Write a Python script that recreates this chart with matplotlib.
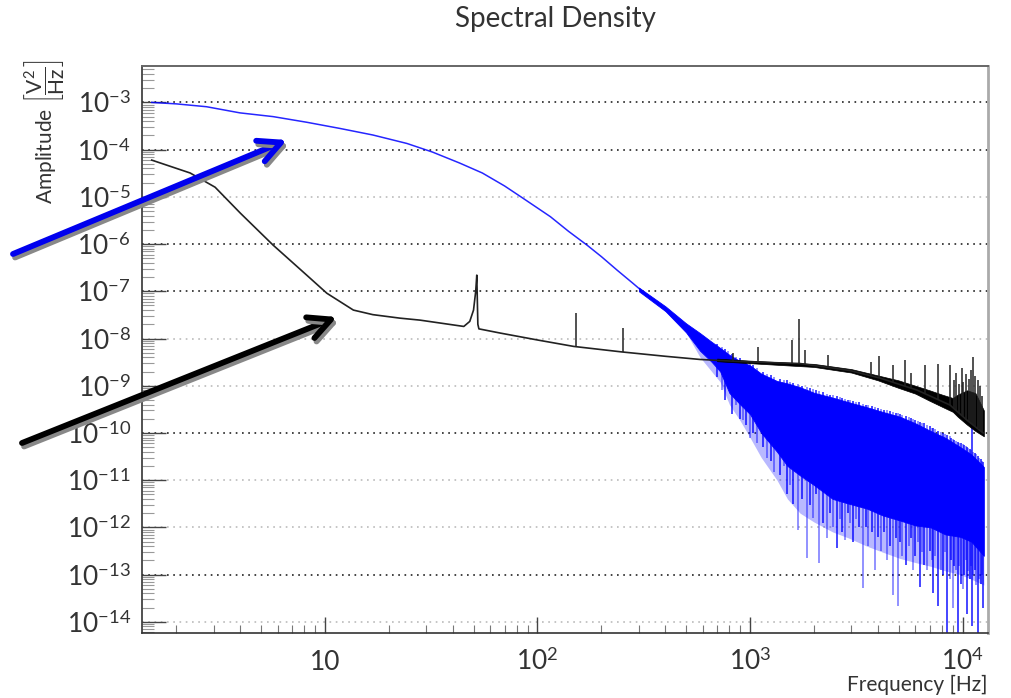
import matplotlib
matplotlib.use("Agg")
import matplotlib.pyplot as plt
from matplotlib import patheffects
from matplotlib.ticker import LogLocator, NullFormatter
import numpy as np

W, H, DPI = 1012, 698, 100

# ── Data (Hz, V^2/Hz) ────────────────────────────────────────────────────────
# blue channel: smooth low-frequency part
blue_f = [1.53, 2.0, 2.77, 3.98, 5.7, 8.2, 11.8, 16.8, 24.3, 32, 43, 55, 70, 85,
          115, 140, 171, 200, 237, 280, 327, 390, 454]
blue_v = [1.0e-3, 9.3e-4, 8.1e-4, 6.0e-4, 5.0e-4, 3.8e-4, 2.8e-4, 2.04e-4, 1.35e-4,
          8.9e-5, 5.2e-5, 3.2e-5, 1.7e-5, 9.5e-6, 3.8e-6, 1.86e-6, 9.5e-7, 5.4e-7,
          2.8e-7, 1.5e-7, 8.3e-8, 4.4e-8, 2.45e-8]

# blue channel: noisy high-frequency band (upper / lower edge of the dense core)
blue_band_f = [300, 400, 500, 582, 660, 724, 800, 900, 1000, 1130, 1340, 1500, 1720,
               2000, 2450, 2900, 3550, 4200, 5080, 6000, 7080, 8300, 9770, 11000, 12600]
blue_band_hi = [1.2e-7, 4.8e-8, 2.1e-8, 1.3e-8, 8.5e-9, 6.3e-9, 4.5e-9, 3.3e-9, 2.7e-9,
                1.8e-9, 1.26e-9, 1.12e-9, 9.3e-10, 7.1e-10, 5.6e-10, 4.5e-10, 3.5e-10,
                2.8e-10, 2.2e-10, 1.6e-10, 1.1e-10, 7.9e-11, 5.0e-11, 3.5e-11, 1.9e-11]
blue_band_lo = [1.0e-7, 3.8e-8, 1.35e-8, 5.5e-9, 3.2e-9, 2.0e-9, 7.0e-10, 4.0e-10,
                2.5e-10, 1.0e-10, 4.0e-11, 2.0e-11, 1.26e-11, 7.9e-12, 4.0e-12, 3.2e-12,
                2.5e-12, 1.8e-12, 1.4e-12, 1.1e-12, 1.0e-12, 7.1e-13, 6.3e-13, 5.0e-13,
                2.5e-13]
# sparse fringe below the core, where only part of the trace reaches
blue_fringe_lo = [1.0e-7, 3.8e-8, 1.35e-8, 4.0e-9, 2.0e-9, 1.2e-9, 4.0e-10, 1.8e-10,
                  8e-11, 3e-11, 1e-11, 4e-12, 2e-12, 1.3e-12, 8e-13, 6e-13, 4e-13,
                  3e-13, 2.2e-13, 1.8e-13, 1.5e-13, 1.2e-13, 1e-13, 8e-14, 6e-14]

# blue channel: individual noise spikes (frequency, top, bottom)
blue_spike_f = [700, 740, 760, 790, 820, 860, 900, 927, 960, 1000, 1033, 1080, 1150,
                1200, 1250, 1300, 1384, 1440, 1500, 1550, 1600, 1683, 1760, 1855, 1920,
                1980, 2050, 2112, 2200, 2305, 2380, 2450, 2570, 2640, 2700, 2802, 2880,
                2950, 3055, 3150, 3250, 3405, 3500, 3600, 3750, 3875, 4000, 4150, 4280,
                4413, 4550, 4711, 4850, 4973, 5100, 5200, 5400, 5600, 5700, 5852, 6000,
                6150, 6312, 6450, 6600, 6800, 7000, 7150, 7263, 7450, 7673, 7900, 8100,
                8300, 8458, 8700, 8850, 9025, 9150, 9300, 9530, 9650, 9800, 10000, 10200,
                10350, 10500, 10650, 10800, 10950, 11090, 11250, 11400, 11600, 11830,
                12000, 12200, 12350, 12490]
blue_spike_hi = [7.5e-9, 6.5e-9, 6e-9, 5.5e-9, 4.8e-9, 4e-9, 3.8e-9, 3.4e-9, 3.2e-9,
                 3.0e-9, 2.8e-9, 2.4e-9, 2.0e-9, 1.8e-9, 1.7e-9, 1.5e-9, 1.4e-9, 1.3e-9,
                 1.3e-9, 1.2e-9, 1.15e-9, 1.1e-9, 1.0e-9, 9.5e-10, 9e-10, 8.5e-10, 8e-10,
                 7.8e-10, 7.2e-10, 6.8e-10, 6.5e-10, 6.3e-10, 6e-10, 5.8e-10, 5.6e-10,
                 5.3e-10, 5.1e-10, 5e-10, 4.8e-10, 4.6e-10, 4.5e-10, 4.2e-10, 4e-10,
                 3.9e-10, 3.7e-10, 3.5e-10, 3.4e-10, 3.2e-10, 3.1e-10, 3e-10, 2.9e-10,
                 2.8e-10, 2.7e-10, 2.6e-10, 2.5e-10, 2.4e-10, 2.3e-10, 2.2e-10, 2.1e-10,
                 2.0e-10, 1.9e-10, 1.8e-10, 1.7e-10, 1.65e-10, 1.6e-10, 1.5e-10, 1.4e-10,
                 1.3e-10, 1.25e-10, 1.2e-10, 1.1e-10, 1.05e-10, 1e-10, 9.5e-11, 9e-11,
                 8.5e-11, 8e-11, 7.5e-11, 7e-11, 6.8e-11, 6.5e-11, 6.2e-11, 6e-11, 5.8e-11,
                 5.5e-11, 5.2e-11, 5e-11, 4.8e-11, 4.5e-11, 4.3e-11, 1.35e-10, 4e-11,
                 3.8e-11, 3.5e-11, 3.2e-11, 3e-11, 2.8e-11, 2.6e-11, 2.4e-11]
blue_spike_lo = [1.5e-9, 8e-10, 5e-10, 9e-10, 2.5e-10, 4e-10, 2e-10, 1.9e-10, 1.5e-10,
                 8e-11, 1.0e-10, 6e-11, 5e-11, 3e-11, 2.5e-11, 1.5e-11, 1.26e-11, 2e-11,
                 5e-12, 8e-12, 3.2e-12, 8.7e-13, 4e-12, 2.3e-13, 3e-12, 1.6e-12, 5e-12,
                 1.8e-13, 1.26e-12, 5.9e-13, 2e-12, 1e-12, 3.6e-13, 1.5e-12, 8e-13, 5.4e-13,
                 2e-12, 1.26e-12, 5e-13, 1.5e-12, 1e-12, 5.2e-14, 1e-12, 4e-13, 8e-13,
                 1.26e-13, 6.3e-13, 3.2e-13, 8e-13, 2.0e-13, 4e-13, 3.7e-14, 6e-13, 2.2e-14,
                 5e-13, 2.5e-13, 1.6e-13, 4e-13, 6e-13, 1.26e-13, 2.5e-13, 5e-13, 5.5e-14,
                 3e-13, 1.6e-13, 1.26e-13, 3.2e-13, 2e-13, 4e-14, 2.5e-13, 2.2e-14,
                 1.26e-13, 1e-13, 3e-13, 3e-15, 8e-14, 2e-13, 2e-14, 1.5e-13, 1.26e-13,
                 3e-15, 1.5e-13, 6.3e-14, 5e-14, 1e-13, 2e-13, 1.5e-14, 1.2e-13, 8e-14,
                 1.5e-13, 8e-15, 1e-13, 1.26e-13, 6e-14, 3e-15, 8e-14, 6.3e-14, 1e-13, 2e-14]

# black channel: base curve incl. the 50 Hz resonance
black_f = [1.53, 2.32, 3.04, 4.0, 5.7, 8.2, 10.2, 13.6, 16.8, 22.5, 28, 45, 48, 50,
           51.2, 51.8, 52.4, 53, 67, 100, 148, 249, 400, 582, 900, 1720, 2950, 4090,
           6100, 8730, 10500, 12500]
black_v = [6.0e-5, 3.2e-5, 1.6e-5, 4.5e-6, 9.5e-7, 2.2e-7, 9.1e-8, 4.0e-8, 3.2e-8,
           2.7e-8, 2.45e-8, 1.8e-8, 2.3e-8, 4.0e-8, 1.0e-7, 2.2e-7, 2.0e-8, 1.6e-8,
           1.3e-8, 9.3e-9, 6.8e-9, 5.2e-9, 4.2e-9, 3.6e-9, 3.25e-9, 2.95e-9, 2.1e-9,
           1.45e-9, 8.1e-10, 3.9e-10, 1.86e-10, 1.0e-10]

# black channel: narrow lines (frequency, base, top)
black_spike_f = [152, 253, 832, 1090, 1580, 1700, 1820, 2330, 3720, 4050, 4710, 5370,
                 5730, 6670, 7680, 8730, 9100, 9350, 9600, 9900, 10100, 10400, 10700,
                 11000, 11200, 11400, 11800, 12100, 12400]
black_spike_base = [6.7e-9, 5.1e-9, 3.35e-9, 3.15e-9, 3.0e-9, 2.95e-9, 2.9e-9, 2.6e-9,
                    1.65e-9, 1.45e-9, 1.2e-9, 1.0e-9, 9e-10, 7e-10, 5.2e-10, 3.9e-10,
                    3.4e-10, 3.0e-10, 2.7e-10, 2.4e-10, 2.2e-10, 1.9e-10, 1.7e-10,
                    1.55e-10, 1.5e-10, 1.4e-10, 1.3e-10, 1.15e-10, 1.05e-10]
black_spike_top = [3.4e-8, 1.66e-8, 4.9e-9, 6.6e-9, 9.3e-9, 2.6e-8, 5.6e-9, 4.5e-9,
                   3.2e-9, 4.3e-9, 2.7e-9, 3.5e-9, 1.9e-9, 2.7e-9, 2.9e-9, 2.7e-9,
                   1.3e-9, 1.9e-9, 1.1e-9, 2.4e-9, 1.2e-9, 1.8e-9, 1.4e-9, 2.2e-9,
                   4.1e-9, 1.6e-9, 1.3e-9, 1.0e-9, 6e-10]

# black channel: fuzz at high frequency
black_band_f = [700, 1000, 2000, 3000, 4000, 5000, 6000, 7000, 8000, 9000, 9500,
                10500, 11500, 12600]
black_band_hi = [3.75e-9, 3.4e-9, 2.9e-9, 2.25e-9, 1.65e-9, 1.3e-9, 1.0e-9, 8e-10,
                 6.5e-10, 5.5e-10, 6.5e-10, 8e-10, 7e-10, 3e-10]
black_band_lo = [3.3e-9, 3.0e-9, 2.5e-9, 1.9e-9, 1.3e-9, 9e-10, 6.8e-10, 4.8e-10,
                 3.6e-10, 2.8e-10, 2.2e-10, 1.5e-10, 1.1e-10, 8.5e-11]

# axes
x_range = (1.377, 13180)
y_range = (5.8e-15, 5.9e-3)
x_ticks = [10, 100, 1000, 10000]
x_labels = ["10", r"$10^{2}$", r"$10^{3}$", r"$10^{4}$"]
y_exponents = [-14, -13, -12, -11, -10, -9, -8, -7, -6, -5, -4, -3]
y_dark_grid = [-13, -10, -7, -6, -4, -3]

BLUE = "#0000ff"
TXT = "#333333"

plt.rcParams['font.family'] = ['Lato', 'DejaVu Sans']
plt.rcParams['mathtext.fontset'] = 'custom'
plt.rcParams['mathtext.rm'] = 'Lato'
plt.rcParams['mathtext.it'] = 'Lato:italic'
plt.rcParams['mathtext.bf'] = 'Lato:bold'


def draw(fig):
    ax = fig.add_axes([142 / W, 1 - 633 / H, (988 - 142) / W, (633 - 66) / H])
    ax.set_xscale('log')
    ax.set_yscale('log')

    # ── dotted horizontal grid ────────────────────────────────────────────────
    for e in y_exponents:
        col = "#222222" if e in y_dark_grid else "#bbbbbb"
        ax.axhline(10.0 ** e, color=col, lw=1.2, ls=(0, (1, 2.75)), zorder=0.5)

    # ── blue channel ──────────────────────────────────────────────────────────
    ax.plot(blue_f, blue_v, color=BLUE, lw=1.1, alpha=0.85, zorder=2)
    ax.fill_between(blue_band_f, blue_fringe_lo, blue_band_lo, color=BLUE,
                    lw=0, alpha=0.28, zorder=2)
    ax.fill_between(blue_band_f, blue_band_lo, blue_band_hi, color=BLUE,
                    lw=0.6, edgecolor=BLUE, zorder=2)
    # alternate strong / faint spikes, like the overdrawn noise trace
    ax.vlines(blue_spike_f[::2], blue_spike_lo[::2], blue_spike_hi[::2], color=BLUE,
              lw=1.2, alpha=0.85, zorder=2)
    ax.vlines(blue_spike_f[1::2], blue_spike_lo[1::2], blue_spike_hi[1::2], color=BLUE,
              lw=1.2, alpha=0.5, zorder=2)

    # ── black channel ─────────────────────────────────────────────────────────
    ax.fill_between(black_band_f, black_band_lo, black_band_hi, color="black",
                    lw=0.5, edgecolor="black", zorder=3)
    ax.plot(black_f, black_v, color="#222222", lw=1.2, zorder=3)
    ax.vlines(black_spike_f, black_spike_base, black_spike_top, color="#222222",
              lw=1.1, zorder=3)

    # ── axes styling (ROOT look) ──────────────────────────────────────────────
    ax.set_xticks(x_ticks)
    ax.set_xticklabels(x_labels)
    ax.set_yticks([10.0 ** e for e in y_exponents])
    ax.set_yticklabels([r"$10^{%d}$" % e for e in y_exponents])
    ax.xaxis.set_minor_locator(LogLocator(base=10, subs=np.arange(2, 10), numticks=50))
    ax.yaxis.set_minor_locator(LogLocator(base=10, subs=np.arange(2, 10), numticks=200))
    ax.xaxis.set_minor_formatter(NullFormatter())
    ax.yaxis.set_minor_formatter(NullFormatter())
    ax.set_xlim(*x_range)
    ax.set_ylim(*y_range)

    ax.tick_params(axis='y', which='major', direction='in', length=17, width=1.0,
                   color="#444444", labelsize=19, labelcolor=TXT, pad=8,
                   right=False)
    ax.tick_params(axis='y', which='minor', direction='in', length=8.5, width=0.8,
                   color="#999999", right=False)
    ax.tick_params(axis='x', which='major', direction='in', length=11.5, width=1.0,
                   color="#444444", labelsize=19, labelcolor=TXT, pad=27,
                   top=False)
    ax.tick_params(axis='x', which='minor', direction='in', length=5.8, width=0.8,
                   color="#777777", top=False)
    for lab in ax.get_xticklabels():
        lab.set_verticalalignment('baseline')

    for side in ('left', 'bottom'):
        ax.spines[side].set_color("#333333")
        ax.spines[side].set_linewidth(1.2)
    ax.spines['top'].set_color("#666666")
    ax.spines['top'].set_linewidth(1.4)
    ax.spines['right'].set_color("#aaaaaa")
    ax.spines['right'].set_linewidth(2.0)

    # ── texts ────────────────────────────────────────────────────────────────
    fig.text(555 / W, 1 - 19 / H, "Spectral Density", ha='center', va='center',
             fontsize=20, color=TXT)
    fig.text(45 / W, 1 - 132 / H,
             r"Amplitude $\left[\dfrac{\mathrm{V}^{2}}{\mathrm{Hz}}\right]$",
             rotation=90, ha='center', va='center', fontsize=15, color=TXT)
    fig.text(988 / W, 1 - 691 / H, "Frequency [Hz]", ha='right', va='baseline',
             fontsize=15, color=TXT)

    # ── pointer arrows with drop shadow ──────────────────────────────────────
    shadow = [patheffects.SimpleLineShadow(offset=(1.5, -2.5), shadow_color="#888888",
                                           alpha=1.0),
              patheffects.Normal()]
    for (x0, y0), (x1, y1), col in [((13, 254), (287, 140), "#0000ee"),
                                    ((22, 443), (337, 317), "black")]:
        ax.annotate("", xy=(x1 / W, 1 - y1 / H), xytext=(x0 / W, 1 - y0 / H),
                    xycoords='figure fraction', textcoords='figure fraction',
                    annotation_clip=False,
                    arrowprops=dict(arrowstyle="->,head_length=1.6,head_width=0.8",
                                    color=col, lw=4.2, shrinkA=0, shrinkB=0,
                                    path_effects=shadow))
    return ax


fig = plt.figure(figsize=(W / DPI, H / DPI), dpi=DPI)
fig.patch.set_facecolor("white")
draw(fig)
fig.savefig("out.png", dpi=DPI, facecolor="white")
